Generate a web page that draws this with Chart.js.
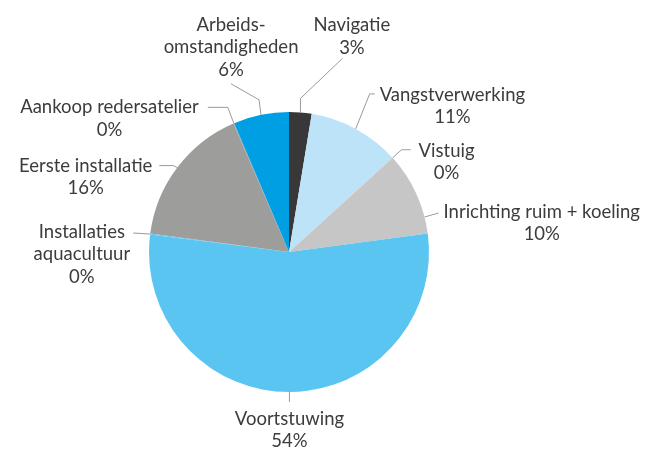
<!DOCTYPE html>
<html><head><meta charset="utf-8">
<script src="https://cdn.jsdelivr.net/npm/chart.js@4.4.1/dist/chart.umd.min.js"></script>
<style>html,body{margin:0;padding:0;background:#fff}</style>
</head><body>
<canvas id="c" width="647" height="450"></canvas>
<script>
const categories = ["Navigatie","Vangstverwerking","Vistuig","Inrichting ruim + koeling","Voortstuwing","Installaties aquacultuur","Eerste installatie","Aankoop redersatelier","Arbeidsomstandigheden"];
const labelLines = [["Navigatie"],["Vangstverwerking"],["Vistuig"],["Inrichting ruim + koeling"],["Voortstuwing"],["Installaties","aquacultuur"],["Eerste installatie"],["Aankoop redersatelier"],["Arbeids-","omstandigheden"]];
const values = [2.6, 10.6, 0.1, 9.6, 54.1, 0.1, 16.4, 0.1, 6.4];
const colors = ["#383838","#bde3f8","#c6c6c6","#c6c6c6","#5bc5f2","#5bc5f2","#9d9d9c","#9d9d9c","#009fe3"];

// label placement (styling only): leader segments relative to slice edge, text offset relative to leader end
const labelLayout = [
  {pts:[[0,-14],[42,-40]], dx:9.5, dy:-33, align:'center'},
  {pts:[[14,-35],[5,0]], dx:5, dy:1, align:'left'},
  {pts:[[9,-8],[9,0]], dx:8, dy:1, align:'left'},
  {frac:0.8, pts:[[14,-4]], dx:5, dy:-1, align:'left'},
  {pts:[[0,10]], dx:0, dy:17, align:'center'},
  {pts:[[-17,-1]], dx:-3, dy:-1, align:'right'},
  {pts:[[-4,-2],[-14,0]], dx:-7, dy:0, align:'right'},
  {pts:[[-6,-16],[-20,0]], dx:-9, dy:0, align:'right'},
  {pts:[[-2,-15],[-28,-16]], dx:0, dy:-59, align:'center'}
];
const FONT = '18.5px Lato';
const LINE_H = 22.5;

const leaderPlugin = {
  id:'leaders',
  afterDatasetsDraw(chart){
    const ctx = chart.ctx;
    const meta = chart.getDatasetMeta(0);
    const data = chart.data.datasets[0].data;
    const total = data.reduce((a,b)=>a+b,0);
    meta.data.forEach((arc,i)=>{
      const p = arc.getProps(['x','y','startAngle','endAngle','outerRadius'], true);
      const L = labelLayout[i];
      const f = (L.frac === undefined) ? 0.5 : L.frac;
      const a = p.startAngle + (p.endAngle - p.startAngle) * f;
      let px = p.x + Math.cos(a) * p.outerRadius, py = p.y + Math.sin(a) * p.outerRadius;
      ctx.save();
      ctx.strokeStyle = '#9a9a9a'; ctx.lineWidth = 1;
      ctx.beginPath(); ctx.moveTo(px, py);
      for (const [dx,dy] of L.pts){ px += dx; py += dy; ctx.lineTo(px, py); }
      ctx.stroke();
      const lines = [...labelLines[i], Math.round(data[i] / total * 100) + '%'];
      ctx.font = FONT; ctx.fillStyle = '#3c3c3c'; ctx.textBaseline = 'middle'; ctx.textAlign = 'center';
      const w = Math.max(...lines.map(s => ctx.measureText(s).width));
      let cx = px + L.dx;
      if (L.align === 'left') cx += w/2; else if (L.align === 'right') cx -= w/2;
      lines.forEach((s,k) => ctx.fillText(s, cx, py + L.dy + k * LINE_H));
      ctx.restore();
    });
  }
};

new Chart(document.getElementById('c'), {
  type: 'pie',
  data: { labels: categories, datasets: [{ data: values, backgroundColor: colors, borderWidth: 0, hoverOffset: 0 }] },
  options: {
    responsive: false, animation: false,
    layout: { padding: { left: 149, top: 112, right: 218, bottom: 58 } },
    plugins: { legend: { display: false }, tooltip: { enabled: false } }
  },
  plugins: [leaderPlugin]
});
</script>
</body></html>
